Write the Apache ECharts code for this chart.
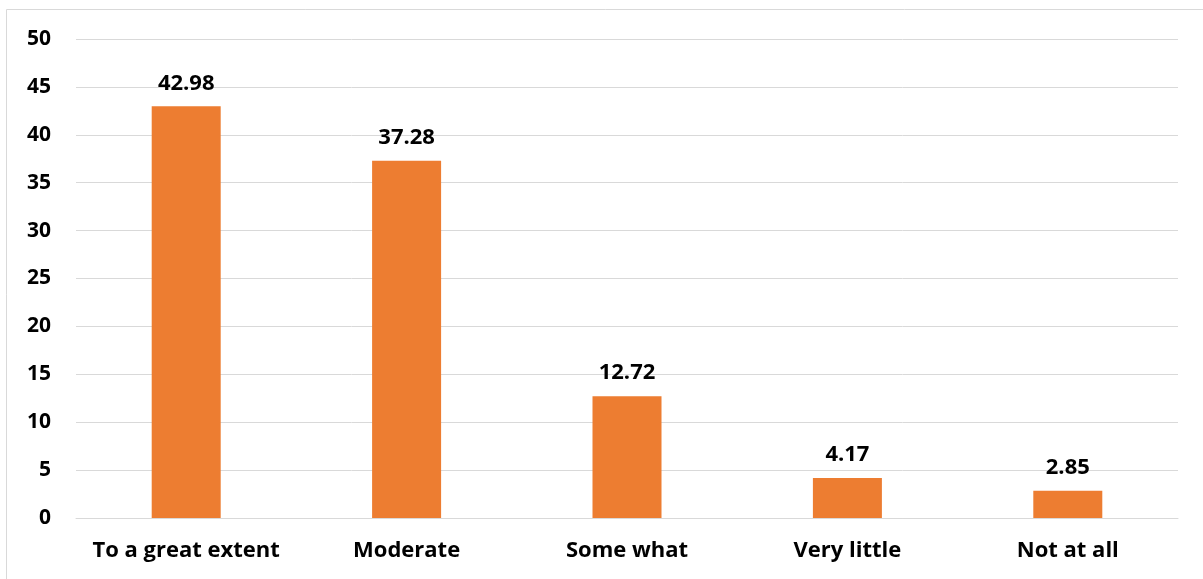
<!DOCTYPE html>
<html><head><meta charset="utf-8">
<script src="https://cdn.jsdelivr.net/npm/echarts@6/dist/echarts.min.js"></script>
<style>html,body{margin:0;padding:0;background:#fff;}#c{width:1203px;height:579px;}</style>
</head><body><div id="c"></div>
<script>
const categories = ["To a great extent", "Moderate", "Some what", "Very little", "Not at all"];
const values = [42.98, 37.28, 12.72, 4.17, 2.85];
const yMin = 0, yMax = 50, yStep = 5;
const font = "'Open Sans', 'Liberation Sans', sans-serif";
const chart = echarts.init(document.getElementById('c'));
chart.setOption({
  animation: false,
  graphic: [{type:'rect', shape:{x:6.5,y:9.5,width:1210,height:600}, style:{fill:'none',stroke:'#d9d9d9',lineWidth:1}, z:-1}],
  grid: {left:76, right:25, top:39, bottom:61},
  xAxis: {type:'category', data:categories,
    axisLine:{lineStyle:{color:'#d9d9d9'}}, axisTick:{show:false},
    axisLabel:{color:'#000', fontWeight:'bold', fontSize:22, fontFamily:font, margin:22, interval:0}},
  yAxis: {type:'value', min:yMin, max:yMax, interval:yStep,
    axisLine:{show:false}, axisTick:{show:false},
    splitLine:{lineStyle:{color:'#d9d9d9', width:1}},
    axisLabel:{color:'#000', fontWeight:'bold', fontSize:21, fontFamily:font, margin:25, align:'right'}},
  series: [{type:'bar', data:values, barWidth:69, itemStyle:{color:'#ED7D31'},
    label:{show:true, position:'top', distance:12, color:'#000', fontWeight:'bold', fontSize:22, fontFamily:font,
      formatter: p => p.value.toFixed(2)}}]
});
</script></body></html>
